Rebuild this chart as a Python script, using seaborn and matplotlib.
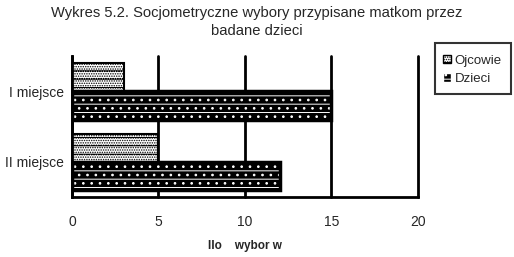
import matplotlib
matplotlib.use("Agg")
import matplotlib.pyplot as plt
import seaborn as sns
import pandas as pd
from matplotlib.patches import Patch, Rectangle
from matplotlib.legend_handler import HandlerPatch

categories = ["I miejsce", "II miejsce"]
series = ["Ojcowie", "Dzieci"]
ojcowie = [3, 5]
dzieci = [15, 12]
xticks = [0, 5, 10, 15, 20]

df = pd.DataFrame({
    "miejsce": categories * 2,
    "seria": [series[0]] * 2 + [series[1]] * 2,
    "wartosc": ojcowie + dzieci,
})

sns.set_style("white")
plt.rcParams["font.family"] = ["Liberation Sans", "DejaVu Sans"]
plt.rcParams["hatch.linewidth"] = 0.7

fig = plt.figure(figsize=(5.14, 2.57), dpi=100)
ax = fig.add_axes([0.140, 0.233, 0.673, 0.549])

sns.barplot(data=df, y="miejsce", x="wartosc", hue="seria", orient="h",
            order=categories, hue_order=series, width=0.8, ax=ax,
            palette=["white", "black"], legend=False, saturation=1)

HATCH_O = "--......."
HATCH_D = "--.."
styles = {
    "Ojcowie": dict(facecolor="white", edgecolor="black", hatch=HATCH_O, lw=1.5),
    "Dzieci": dict(facecolor="black", edgecolor="white", hatch=HATCH_D, lw=0),
}
for container, name in zip(ax.containers, series):
    st = styles[name]
    for bar in container:
        bar.set_facecolor(st["facecolor"])
        bar.set_edgecolor(st["edgecolor"])
        bar.set_hatch(st["hatch"])
        bar.set_linewidth(st["lw"])
        if name == "Dzieci":
            x, y = bar.get_xy()
            ax.add_patch(Rectangle((x, y), bar.get_width(), bar.get_height(),
                                   fill=False, edgecolor="black", lw=2.5, zorder=bar.get_zorder() + 0.1))

ax.set_xlim(0, 20)
ax.set_ylim(1.5, -0.5)
ax.set_xticks(xticks)
ax.set_xticklabels([str(t) for t in xticks], fontsize=10)
ax.set_yticks([-0.5, 0.5, 1.5])
ax.set_yticklabels([])
ax.set_yticks([0, 1], minor=True)
ax.set_yticklabels(categories, minor=True, fontsize=10)
ax.tick_params(axis="y", which="minor", length=0, pad=6)
ax.tick_params(axis="y", which="major", length=6, width=2, direction="out", color="black")
ax.tick_params(axis="x", length=5, width=2, direction="out", color="black", pad=8)

ax.xaxis.grid(True, color="black", lw=2)
for gl in ax.get_xgridlines():
    gl.set_clip_on(False)
ax.set_axisbelow(True)
for s in ["top", "right"]:
    ax.spines[s].set_visible(False)
for s in ["left", "bottom"]:
    ax.spines[s].set_color("black")
    ax.spines[s].set_linewidth(2)

ax.set_ylabel("")
ax.set_xlabel("Ilo    wybor w", fontsize=8.5, fontweight="bold", labelpad=8)

fig.suptitle("Wykres 5.2. Socjometryczne wybory przypisane matkom przez\nbadane dzieci",
             fontsize=10.6, y=0.975, linespacing=1.35)


def small_square(legend, orig_handle, xdescent, ydescent, width, height, fontsize):
    s = 6.0
    return Rectangle((width - s - 1.0 - xdescent, (height - s) / 2 - ydescent), s, s)


handles = [Patch(facecolor="white", edgecolor="black", hatch=HATCH_O, label="Ojcowie"),
           Patch(facecolor="black", edgecolor="white", hatch=HATCH_D, label="Dzieci")]
leg = fig.legend(handles=handles, loc="upper left", bbox_to_anchor=(435 / 514, 1 - 43 / 257),
                 frameon=True, fancybox=False, edgecolor="black", fontsize=9.5,
                 handlelength=0.65, handleheight=1.25, handletextpad=0.15,
                 borderpad=0.7, borderaxespad=0.0, labelspacing=0.3,
                 handler_map={Patch: HandlerPatch(patch_func=small_square)})
leg.get_frame().set_linewidth(1.5)

fig.savefig("out.png", dpi=100)
